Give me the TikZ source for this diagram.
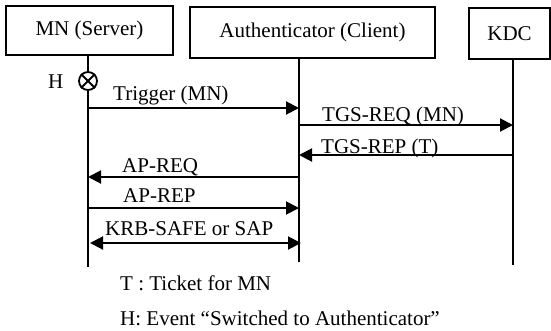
\documentclass[tikz,border=0pt]{standalone}
\usepackage{fontspec}
\setmainfont{Liberation Serif}
\usetikzlibrary{arrows.meta}
\tikzset{
  txt/.style={font=\fontsize{21}{25}\selectfont, inner sep=0pt},
  party/.style={draw, line width=1.5pt, txt},
  life/.style={line width=1.6pt},
  msg/.style={line width=2pt, -{Triangle[length=13pt,width=13pt]}},
  msgboth/.style={line width=2pt, {Triangle[length=13pt,width=13pt]}-{Triangle[length=13pt,width=13pt]}},
  lbl/.style={txt, anchor=base west},
}
\begin{document}
\begin{tikzpicture}[x=1pt,y=-1pt]
\useasboundingbox (0,0) rectangle (551,330);
% parties
\node[party, minimum width=167pt, minimum height=49pt] (mn) at (89.5,30.5) {MN (Server)};
\node[party, minimum width=245pt, minimum height=51pt] (auth) at (312.5,32.5) {Authenticator (Client)};
\node[party, minimum width=81pt, minimum height=51pt] (kdc) at (509.5,33.5) {KDC};
% lifelines
\coordinate (mnTop) at (88,55);
\coordinate (mnBot) at (88,267);
\coordinate (auTop) at (299,58);
\coordinate (auBot) at (299,262);
\coordinate (kdTop) at (513,59);
\coordinate (kdBot) at (513,265);
\draw[life] (mnTop) -- (mnBot);
\draw[life] (auTop) -- (auBot);
\draw[life] (kdTop) -- (kdBot);
% event H
\node[draw, circle, fill=white, line width=1.8pt, minimum size=18pt, inner sep=0pt] (ev) at (88,81) {};
\draw[line width=1.8pt] (ev.north west) -- (ev.south east);
\draw[line width=1.8pt] (ev.north east) -- (ev.south west);
\node[lbl] (hl) at (48,88) {H};
% message endpoints
\coordinate (m1) at (88,108);  \coordinate (a1) at (299,108);
\coordinate (a2) at (299,125); \coordinate (k2) at (513,125);
\coordinate (k3) at (513,155); \coordinate (a3) at (299,155);
\coordinate (a4) at (299,177); \coordinate (m4) at (88,177);
\coordinate (m5) at (88,208);  \coordinate (a5) at (299,208);
\coordinate (m6) at (90,243);  \coordinate (a6) at (301,243);
% messages
\draw[msg] (m1) -- (a1);
\draw[msg] (a2) -- (k2);
\draw[msg] (k3) -- (a3);
\draw[msg] (a4) -- (m4);
\draw[msg] (m5) -- (a5);
\draw[msgboth] (m6) -- (a6);
% labels
\node[lbl] (l1) at (113,100) {Trigger (MN)};
\node[lbl] (l2) at (322,121) {TGS-REQ (MN)};
\node[lbl] (l3) at (321,153) {TGS-REP (T)};
\node[lbl] (l4) at (122,172) {AP-REQ};
\node[lbl] (l5) at (123,202) {AP-REP};
\node[lbl] (l6) at (105,235) {KRB-SAFE or SAP};
% legend
\node[lbl] (n1) at (120,290) {T : Ticket for MN};
\node[lbl] (n2) at (120,325) {H: Event “Switched to Authenticator”};
\end{tikzpicture}
\end{document}
